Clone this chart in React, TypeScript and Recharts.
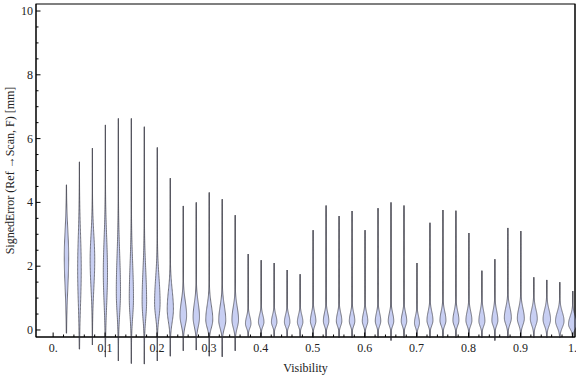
import React from 'react';
import * as RC from 'recharts';
import { ComposedChart, Bar, XAxis, YAxis } from 'recharts';

// one violin every 0.025 of visibility
const visibility = [
  0.025, 0.05, 0.075, 0.1, 0.125, 0.15, 0.175, 0.2, 0.225, 0.25,
  0.275, 0.3, 0.325, 0.35, 0.375, 0.4, 0.425, 0.45, 0.475, 0.5,
  0.525, 0.55, 0.575, 0.6, 0.625, 0.65, 0.675, 0.7, 0.725, 0.75,
  0.775, 0.8, 0.825, 0.85, 0.875, 0.9, 0.925, 0.95, 0.975, 1.0,
];

const maxError = [
  4.55, 5.27, 5.7, 6.43, 6.63, 6.63, 6.37, 5.72, 4.76, 3.89,
  4.0, 4.31, 4.1, 3.6, 2.38, 2.19, 2.1, 1.88, 1.75, 3.13,
  3.9, 3.57, 3.73, 3.13, 3.82, 4.0, 3.9, 2.1, 3.36, 3.76,
  3.74, 3.04, 1.86, 2.22, 3.2, 3.1, 1.65, 1.57, 1.5, 1.22,
];

const minError = [
  -0.1, -0.6, -0.47, -0.85, -0.97, -1.05, -1.07, -0.97, -0.82, -0.65,
  -0.63, -0.82, -0.84, -0.65, -0.22, -0.2, -0.22, -0.22, -0.22, -0.24,
  -0.24, -0.24, -0.24, -0.24, -0.24, -0.33, -0.24, -0.22, -0.24, -0.24,
  -0.24, -0.24, -0.24, -0.33, -0.24, -0.24, -0.24, -0.24, -0.24, -0.24,
];

// where the density peaks
const modeError = [
  2.3, 1.9, 2.2, 1.8, 1.2, 1.0, 0.9, 0.85, 0.65, 0.45,
  0.4, 0.32, 0.3, 0.32, 0.2, 0.25, 0.25, 0.25, 0.25, 0.28,
  0.28, 0.28, 0.28, 0.28, 0.28, 0.28, 0.28, 0.22, 0.3, 0.3,
  0.3, 0.3, 0.28, 0.3, 0.38, 0.36, 0.35, 0.33, 0.28, 0.18,
];

const spreadBelow = [
  1.0, 1.1, 0.9, 1.0, 0.7, 0.6, 0.55, 0.45, 0.4, 0.3,
  0.3, 0.25, 0.25, 0.25, 0.14, 0.14, 0.14, 0.14, 0.14, 0.15,
  0.15, 0.15, 0.15, 0.15, 0.15, 0.15, 0.15, 0.14, 0.16, 0.16,
  0.16, 0.16, 0.16, 0.16, 0.2, 0.2, 0.2, 0.2, 0.2, 0.15,
];

const spreadAbove = [
  0.85, 1.1, 0.8, 1.1, 1.2, 1.1, 1.0, 0.8, 0.6, 0.45,
  0.45, 0.45, 0.45, 0.4, 0.22, 0.22, 0.22, 0.22, 0.22, 0.25,
  0.25, 0.25, 0.25, 0.25, 0.25, 0.25, 0.25, 0.22, 0.28, 0.28,
  0.28, 0.28, 0.3, 0.3, 0.32, 0.32, 0.3, 0.3, 0.28, 0.25,
];

// relative width of the violin at its widest point
const peakDensity = [
  0.44, 0.36, 0.46, 0.42, 0.42, 0.42, 0.45, 0.55, 0.62, 0.66,
  0.64, 0.7, 0.7, 0.66, 0.55, 0.55, 0.55, 0.55, 0.55, 0.55,
  0.55, 0.55, 0.55, 0.55, 0.55, 0.55, 0.55, 0.5, 0.6, 0.6,
  0.6, 0.6, 0.6, 0.6, 0.7, 0.7, 0.7, 0.75, 0.85, 0.85,
];

const xMajorTicks = [0, 0.1, 0.2, 0.3, 0.4, 0.5, 0.6, 0.7, 0.8, 0.9, 1];
const xTickLabels = ['0.', '0.1', '0.2', '0.3', '0.4', '0.5', '0.6', '0.7', '0.8', '0.9', '1.'];
const yMajorTicks = [0, 2, 4, 6, 8, 10];
const yTickLabels = ['0', '2', '4', '6', '8', '10'];

const X_DOMAIN = [-0.033, 1.005];
const Y_DOMAIN = [-0.22, 10.22];

const xTicks = xMajorTicks.flatMap((t, i) =>
  i === xMajorTicks.length - 1 ? [t] : [t, t + 0.02, t + 0.04, t + 0.06, t + 0.08]
);
const yTicks = yMajorTicks.flatMap((t, i) =>
  i === yMajorTicks.length - 1 ? [t] : [t, t + 0.5, t + 1, t + 1.5]
);

const data = visibility.map((v, i) => ({
  visibility: v,
  max: maxError[i],
  min: minError[i],
  mode: modeError[i],
  sLo: spreadBelow[i],
  sHi: spreadAbove[i],
  peak: peakDensity[i],
}));

const FONT = '"Liberation Serif", "DejaVu Serif", serif';
const TEXT = '#222';
const MAX_HALF = 5;

// plot-area hook, if this recharts build has it
const usePlotArea: () => any = (RC as any).usePlotArea || (() => null);

function isMajor(list: number[], v: number) {
  return list.findIndex((t) => Math.abs(t - v) < 1e-6);
}

function Frame() {
  const area = usePlotArea();
  if (!area || area.width == null) return null;
  return (
    <rect
      x={area.x}
      y={area.y}
      width={area.width}
      height={area.height}
      fill="none"
      stroke="#000"
      strokeWidth={1}
    />
  );
}

function Violin(props: any) {
  const { x, y, width, height, payload } = props;
  if (payload == null) return null;
  const top = Math.min(y, y + height);
  const bottom = Math.max(y, y + height);
  // bar spans [0, max], so derive the pixel mapping from it
  const ppu = (bottom - top) / payload.max;
  const toPx = (v: number) => bottom - v * ppu;
  const cx = x + width / 2;

  const steps = 140;
  const left: string[] = [];
  const right: string[] = [];
  for (let k = 0; k <= steps; k++) {
    const v = payload.min + ((payload.max - payload.min) * k) / steps;
    const s = v < payload.mode ? payload.sLo : payload.sHi;
    const d = (v - payload.mode) / s;
    const w = payload.peak * MAX_HALF * Math.exp(-0.5 * d * d);
    const py = toPx(v);
    left.push(`${(cx - w).toFixed(2)},${py.toFixed(2)}`);
    right.unshift(`${(cx + w).toFixed(2)},${py.toFixed(2)}`);
  }

  return (
    <g>
      <line
        x1={cx}
        x2={cx}
        y1={toPx(payload.min)}
        y2={toPx(payload.max)}
        stroke="#34343c"
        strokeWidth={1.1}
        strokeOpacity={0.85}
      />
      <polygon
        points={[...left, ...right].join(' ')}
        fill="#c8cff3"
        stroke="#55555f"
        strokeWidth={0.8}
        strokeLinejoin="round"
      />
    </g>
  );
}

function LeftTick(props: any) {
  const { x, y, payload } = props;
  const idx = isMajor(yMajorTicks, payload.value);
  const axisX = x + 3;
  return (
    <g>
      <line x1={axisX} x2={axisX + (idx >= 0 ? 4.5 : 2.5)} y1={y} y2={y} stroke="#000" strokeWidth={1} />
      {idx >= 0 && (
        <text x={x} y={y} dy={4} textAnchor="end" fontSize={12} fontFamily={FONT} fill={TEXT}>
          {yTickLabels[idx]}
        </text>
      )}
    </g>
  );
}

function RightTick(props: any) {
  const { x, y, payload } = props;
  const idx = isMajor(yMajorTicks, payload.value);
  return <line x1={x} x2={x - (idx >= 0 ? 4.5 : 2.5)} y1={y} y2={y} stroke="#000" strokeWidth={1} />;
}

function BottomTick(props: any) {
  const { x, y, payload } = props;
  const idx = isMajor(xMajorTicks, payload.value);
  return (
    <g>
      <line x1={x} x2={x} y1={y} y2={y - (idx >= 0 ? 4.5 : 2.5)} stroke="#000" strokeWidth={1} />
      {idx >= 0 && (
        <text x={x} y={y} dy={15} textAnchor="middle" fontSize={12} fontFamily={FONT} fill={TEXT}>
          {xTickLabels[idx]}
        </text>
      )}
    </g>
  );
}

function YTitle(props: any) {
  const { viewBox } = props;
  const cx = 10;
  const cy = viewBox.y + viewBox.height / 2;
  return (
    <text
      x={cx}
      y={cy}
      transform={`rotate(-90 ${cx} ${cy})`}
      textAnchor="middle"
      dominantBaseline="central"
      fontSize={12}
      fontFamily={FONT}
      fill={TEXT}
    >
      SignedError (Ref →Scan, F) [mm]
    </text>
  );
}

export default function App() {
  return (
    <div style={{ position: 'absolute', left: 0, top: 0, width: 576, height: 377, background: '#fff' }}>
      <ComposedChart
        width={576}
        height={377}
        data={data}
        margin={{ top: 4, right: 0, bottom: 0, left: 0 }}
      >
        <XAxis
          dataKey="visibility"
          type="number"
          domain={X_DOMAIN}
          ticks={xTicks}
          interval={0}
          tick={<BottomTick />}
          tickSize={0}
          tickMargin={0}
          axisLine={{ stroke: '#000', strokeWidth: 1 }}
          height={40}
          label={{
            value: 'Visibility',
            position: 'insideBottom',
            offset: 5,
            fontSize: 12,
            fontFamily: FONT,
            fill: TEXT,
          }}
        />
        <YAxis
          type="number"
          domain={Y_DOMAIN}
          ticks={yTicks}
          interval={0}
          width={36}
          tick={<LeftTick />}
          tickSize={0}
          tickMargin={3}
          axisLine={{ stroke: '#000', strokeWidth: 1 }}
          label={<YTitle />}
        />
        <YAxis
          yAxisId="right"
          orientation="right"
          type="number"
          domain={Y_DOMAIN}
          ticks={yTicks}
          interval={0}
          width={1}
          tick={<RightTick />}
          tickSize={0}
          tickMargin={0}
          axisLine={{ stroke: '#000', strokeWidth: 1 }}
        />
        <Frame />
        <Bar
          dataKey={(d: any) => [0, d.max]}
          barSize={14}
          shape={(p: any) => <Violin {...p} />}
          isAnimationActive={false}
        />
      </ComposedChart>
    </div>
  );
}
